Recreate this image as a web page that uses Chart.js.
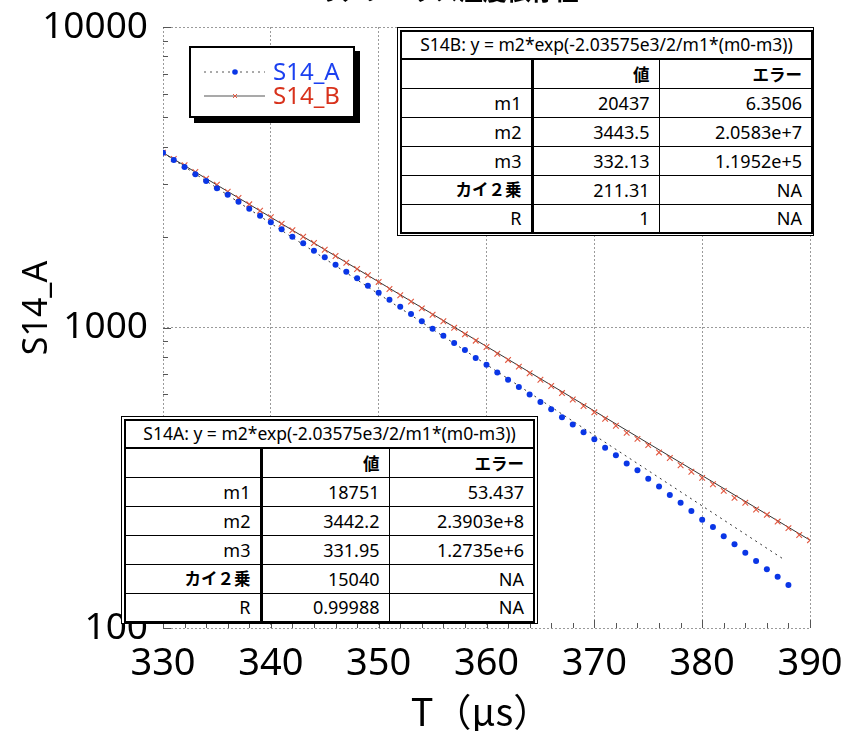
<!DOCTYPE html>
<html>
<head>
<meta charset="utf-8">
<script src="https://cdn.jsdelivr.net/npm/chart.js@4.4.1/dist/chart.umd.min.js"></script>
<style>
  body { margin: 0; background: #fff; }
  #wrap { position: relative; width: 848px; height: 731px; overflow: hidden;
          font-family: "Noto Sans", "Noto Sans CJK JP", sans-serif; }
  #c { position: absolute; left: 0; top: 0; }
  .fit { position: absolute; background: #fff; border: 1px solid #000; padding: 2px; box-sizing: border-box; }
  .fit table { width: 100%; height: 100%; border-collapse: collapse; table-layout: fixed;
               border: 2px solid #000; font-size: 18px; }
  .fit td { border: 1px solid #000; text-align: right; padding: 0 9px; white-space: nowrap; line-height: 1; }
  .fit td.ttl { text-align: center; border-bottom: 2px solid #000; padding: 0; font-size: 17.5px; }
  .fit td.c1 { border-right: 3px solid #000; }
  .fit td.b { font-weight: bold; font-family: "Noto Sans CJK JP", sans-serif; font-size: 16.5px; }
  #legend { position: absolute; left: 189px; top: 46px; width: 166px; height: 72px; box-sizing: border-box;
            background: #fff; border: 2px solid #000; box-shadow: 5px 5px 0 #000; }
  #legend .row { position: absolute; left: 0; height: 24px; width: 160px; }
  #legend svg { position: absolute; left: 12px; top: 7px; }
  #legend span { position: absolute; left: 82px; top: -3px; font-size: 24px; line-height: 28px; }
</style>
</head>
<body>
<div id="wrap">
  <canvas id="c" width="848" height="731"></canvas>
  <div id="legend"></div>
  <div class="fit" id="fitB" style="left:397px;top:27px;width:417px;height:209px"></div>
  <div class="fit" id="fitA" style="left:121px;top:416px;width:417px;height:208px"></div>
</div>
<script>
// --- データ ---
const tValues = [330, 331, 332, 333, 334, 335, 336, 337, 338, 339,
  340, 341, 342, 343, 344, 345, 346, 347, 348, 349,
  350, 351, 352, 353, 354, 355, 356, 357, 358, 359,
  360, 361, 362, 363, 364, 365, 366, 367, 368, 369,
  370, 371, 372, 373, 374, 375, 376, 377, 378, 379,
  380, 381, 382, 383, 384, 385, 386, 387, 388, 389, 390];

// S14_A 測定値 (T = 330 .. 388)
const s14A = [3817, 3609, 3420, 3234, 3072, 2905, 2767, 2622, 2485, 2355,
  2240, 2122, 2005, 1906, 1801, 1713, 1618, 1534, 1458, 1378,
  1306, 1237, 1173, 1109, 1049, 991, 939, 888, 842, 792,
  752, 709, 670, 634, 599, 565, 534, 503, 476, 448,
  425, 398, 376, 353, 335, 314, 296, 277, 261, 245,
  229, 217, 202, 190, 178, 167, 157, 148, 139];

// S14_B 測定値 (T = 330 .. 390)
const s14B = [3817, 3636, 3466, 3292, 3128, 2987, 2830, 2697, 2570, 2447,
  2327, 2215, 2106, 2005, 1910, 1815, 1729, 1643, 1566, 1492,
  1418, 1343, 1280, 1219, 1158, 1103, 1049, 998, 949, 904,
  861, 818, 780, 741, 704, 670, 639, 605, 576, 548,
  522, 497, 471, 446, 426, 406, 384, 368, 348, 331,
  316, 301, 286, 271, 261, 248, 238, 226, 215, 204, 196];

// フィット曲線の端点（対数軸上で直線）
const fitAT = [330, 387.7];
const fitAY = [3817, 168];
const fitBT = [330, 390];
const fitBY = [3817, 196];

// 目盛り
const xTicks = [330, 332, 334, 336, 338, 340, 342, 344, 346, 348, 350, 352, 354, 356, 358, 360,
  362, 364, 366, 368, 370, 372, 374, 376, 378, 380, 382, 384, 386, 388, 390];
const xLabelTicks = [330, 340, 350, 360, 370, 380, 390];
const yTicks = [100, 200, 300, 400, 500, 600, 700, 800, 900,
  1000, 2000, 3000, 4000, 5000, 6000, 7000, 8000, 9000, 10000];
const yLabelTicks = [100, 1000, 10000];

const xTitle = 'T（μs）';
const yTitle = 'S14_A';
const chartTitle = 'S14のアレニウス温度依存性';

// フィット結果テーブル
const fitHeader = ['', '値', 'エラー'];
const fitBTitle = 'S14B: y = m2*exp(-2.03575e3/2/m1*(m0-m3))';
const fitBRows = [['m1', '20437', '6.3506'], ['m2', '3443.5', '2.0583e+7'], ['m3', '332.13', '1.1952e+5'],
  ['カイ２乗', '211.31', 'NA'], ['R', '1', 'NA']];
const fitATitle = 'S14A: y = m2*exp(-2.03575e3/2/m1*(m0-m3))';
const fitARows = [['m1', '18751', '53.437'], ['m2', '3442.2', '2.3903e+8'], ['m3', '331.95', '1.2735e+6'],
  ['カイ２乗', '15040', 'NA'], ['R', '0.99988', 'NA']];

const seriesNames = ['S14_A', 'S14_B'];
const blue = '#0a36e6';
const red = '#e2573f';

// --- テーブル生成 ---
function buildFitTable(el, title, rows, widths) {
  const bold = ['値', 'エラー', 'カイ２乗'];
  let html = '<table><colgroup>' + widths.map(w => `<col style="width:${w}px">`).join('') + '</colgroup>';
  html += `<tr style="height:28px"><td class="ttl" colspan="3">${title}</td></tr>`;
  [fitHeader].concat(rows).forEach(r => {
    html += '<tr style="height:29px">' + r.map((v, i) =>
      `<td class="${i === 0 ? 'c1' : ''} ${bold.includes(v) ? 'b' : ''}">${v}</td>`).join('') + '</tr>';
  });
  el.innerHTML = html + '</table>';
}
buildFitTable(document.getElementById('fitB'), fitBTitle, fitBRows, [131, 127, 153]);
buildFitTable(document.getElementById('fitA'), fitATitle, fitARows, [136, 128, 145]);

// --- 凡例 ---
const legend = document.getElementById('legend');
legend.innerHTML =
  `<div class="row" style="top:12px">
     <svg width="64" height="10"><line x1="1" y1="5" x2="62" y2="5" stroke="#555" stroke-width="1" stroke-dasharray="2,4"/>
     <circle cx="32" cy="5" r="2.8" fill="${blue}"/></svg>
     <span style="color:#1b40f0">${seriesNames[0]}</span></div>
   <div class="row" style="top:36px">
     <svg width="64" height="10"><line x1="1" y1="5" x2="62" y2="5" stroke="#555" stroke-width="1.2"/>
     <path d="M30 3 L34 7 M34 3 L30 7" stroke="${red}" stroke-width="1"/></svg>
     <span style="color:#d8321c">${seriesNames[1]}</span></div>`;

// --- 軸タイトル・内向き目盛りプラグイン ---
const axisDecor = {
  id: 'axisDecor',
  afterDraw(chart) {
    const { ctx, chartArea: a, scales: { x, y } } = chart;
    ctx.save();
    ctx.strokeStyle = '#555';
    ctx.lineWidth = 1;
    ctx.beginPath();
    x.ticks.forEach(t => {
      const px = Math.round(x.getPixelForValue(t.value)) + 0.5;
      const len = xLabelTicks.includes(t.value) ? 8 : 5;
      ctx.moveTo(px, a.bottom); ctx.lineTo(px, a.bottom - len);
    });
    y.ticks.forEach(t => {
      const py = Math.round(y.getPixelForValue(t.value)) + 0.5;
      const len = yLabelTicks.includes(t.value) ? 8 : 5;
      ctx.moveTo(a.left, py); ctx.lineTo(a.left + len, py);
    });
    ctx.stroke();

    ctx.fillStyle = '#000';
    ctx.textAlign = 'center';
    ctx.textBaseline = 'middle';
    ctx.font = '38px "Noto Sans CJK JP"';
    ctx.fillText(xTitle, 481, 712);

    ctx.save();
    ctx.translate(37, 308);
    ctx.rotate(-Math.PI / 2);
    ctx.font = '34px "Noto Sans"';
    ctx.fillText(yTitle, 0, 0);
    ctx.restore();

    ctx.font = 'bold 24px "Noto Sans CJK JP"';
    ctx.textBaseline = 'alphabetic';
    ctx.fillText(chartTitle, 425, 0);
    ctx.restore();
  }
};

const gridColor = '#9a9a9a';

new Chart(document.getElementById('c'), {
  type: 'scatter',
  data: {
    datasets: [
      {
        label: seriesNames[0],
        data: s14A.map((v, i) => ({ x: tValues[i], y: v })),
        pointStyle: 'circle', pointRadius: 3, pointBackgroundColor: blue, pointBorderWidth: 0,
        showLine: false, order: 1
      },
      {
        label: seriesNames[1],
        data: s14B.map((v, i) => ({ x: tValues[i], y: v })),
        pointStyle: 'crossRot', pointRadius: 4, pointBorderColor: red, pointBorderWidth: 1.1,
        showLine: false, order: 2
      },
      {
        label: 'fitA',
        data: fitAT.map((t, i) => ({ x: t, y: fitAY[i] })),
        showLine: true, borderColor: '#333', borderWidth: 1, borderDash: [2, 4], pointRadius: 0, order: 3
      },
      {
        label: 'fitB',
        data: fitBT.map((t, i) => ({ x: t, y: fitBY[i] })),
        showLine: true, borderColor: '#333', borderWidth: 1, pointRadius: 0, order: 4
      }
    ]
  },
  options: {
    responsive: false,
    animation: false,
    devicePixelRatio: 1,
    layout: { padding: { top: 27, right: 38, left: 0, bottom: 0 } },
    plugins: { legend: { display: false }, tooltip: { enabled: false } },
    scales: {
      x: {
        type: 'linear', min: 330, max: 390,
        afterBuildTicks: s => { s.ticks = xTicks.map(v => ({ value: v })); },
        afterFit: s => { s.height = 103; },
        grid: { drawTicks: false, lineWidth: 1,
          color: c => (c.tick && xLabelTicks.includes(c.tick.value)) ? gridColor : 'rgba(0,0,0,0)' },
        border: { display: false, dash: [2, 2] },
        ticks: { autoSkip: false, maxRotation: 0, padding: 0, color: '#000',
          font: { family: '"Noto Sans"', size: 38, lineHeight: 1.9 },
          callback: v => xLabelTicks.includes(v) ? String(v) : '' }
      },
      y: {
        type: 'logarithmic', min: 100, max: 10000,
        afterBuildTicks: s => { s.ticks = yTicks.map(v => ({ value: v })); },
        afterFit: s => { s.width = 163; },
        grid: { drawTicks: false, lineWidth: 1,
          color: c => (c.tick && yLabelTicks.includes(c.tick.value)) ? gridColor : 'rgba(0,0,0,0)' },
        border: { display: false, dash: [2, 2] },
        ticks: { autoSkip: false, padding: 15, color: '#000',
          font: { family: '"Noto Sans"', size: 37, lineHeight: 0.5 },
          callback: v => yLabelTicks.includes(v) ? String(v) : '' }
      }
    }
  },
  plugins: [axisDecor]
});
</script>
</body>
</html>
